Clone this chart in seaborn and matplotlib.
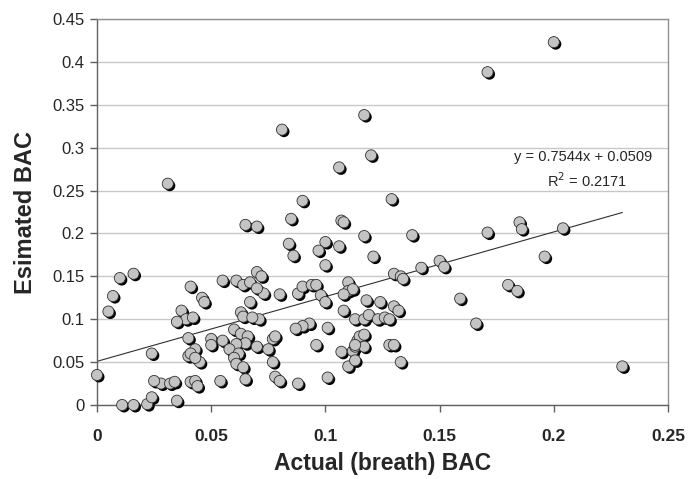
import numpy as np
import pandas as pd
import seaborn as sns
import matplotlib
matplotlib.use("Agg")
from matplotlib import pyplot as plt
from matplotlib import patheffects as pe

# actual (breath) BAC vs estimated BAC
actual_bac = [
    0.200, 0.171, 0.117, 0.081, 0.120, 0.106, 0.031, 0.090, 0.129, 0.085,
    0.107, 0.108, 0.065, 0.070, 0.171, 0.138, 0.117, 0.100, 0.084, 0.106,
    0.185, 0.186, 0.204, 0.121, 0.086, 0.097, 0.196, 0.100, 0.142, 0.150,
    0.152, 0.130, 0.133, 0.134, 0.016, 0.010, 0.070, 0.072, 0.055, 0.061,
    0.064, 0.067, 0.041, 0.088, 0.090, 0.094, 0.096, 0.110, 0.110, 0.112,
    0.108, 0.098, 0.080, 0.007, 0.046, 0.047, 0.100, 0.067, 0.073, 0.070,
    0.118, 0.124, 0.159, 0.180, 0.184, 0.005, 0.037, 0.039, 0.035, 0.042,
    0.071, 0.063, 0.064, 0.068, 0.108, 0.113, 0.117, 0.119, 0.123, 0.126,
    0.128, 0.130, 0.132, 0.101, 0.093, 0.090, 0.087, 0.060, 0.063, 0.066,
    0.065, 0.061, 0.055, 0.050, 0.040, 0.077, 0.078, 0.070, 0.075, 0.058,
    0.050, 0.043, 0.166, 0.096, 0.107, 0.112, 0.113, 0.114, 0.115, 0.117,
    0.117, 0.128, 0.130, 0.110, 0.113, 0.113, 0.077, 0.133, 0.101, 0.062,
    0.060, 0.061, 0.064, 0.045, 0.040, 0.041, 0.043, 0.024, 0.000, 0.028,
    0.025, 0.032, 0.034, 0.041, 0.043, 0.044, 0.054, 0.065, 0.078, 0.080,
    0.088, 0.011, 0.016, 0.022, 0.024, 0.035, 0.230,
]
estimated_bac = [
    0.423, 0.388, 0.338, 0.321, 0.291, 0.277, 0.258, 0.238, 0.240, 0.217,
    0.215, 0.213, 0.210, 0.208, 0.201, 0.198, 0.197, 0.190, 0.188, 0.185,
    0.213, 0.205, 0.206, 0.173, 0.174, 0.180, 0.173, 0.163, 0.160, 0.168,
    0.161, 0.153, 0.150, 0.147, 0.153, 0.148, 0.155, 0.150, 0.145, 0.145,
    0.140, 0.143, 0.138, 0.130, 0.138, 0.140, 0.140, 0.143, 0.133, 0.135,
    0.129, 0.128, 0.129, 0.127, 0.125, 0.120, 0.120, 0.120, 0.130, 0.136,
    0.122, 0.120, 0.124, 0.140, 0.133, 0.109, 0.110, 0.100, 0.097, 0.102,
    0.100, 0.108, 0.103, 0.102, 0.110, 0.100, 0.100, 0.105, 0.100, 0.102,
    0.100, 0.115, 0.110, 0.090, 0.095, 0.092, 0.089, 0.088, 0.083, 0.080,
    0.072, 0.071, 0.075, 0.077, 0.078, 0.077, 0.080, 0.068, 0.065, 0.065,
    0.070, 0.065, 0.095, 0.070, 0.062, 0.063, 0.068, 0.075, 0.080, 0.082,
    0.068, 0.070, 0.070, 0.045, 0.070, 0.052, 0.050, 0.050, 0.032, 0.060,
    0.055, 0.048, 0.044, 0.050, 0.057, 0.060, 0.055, 0.060, 0.035, 0.025,
    0.028, 0.025, 0.027, 0.027, 0.028, 0.022, 0.028, 0.030, 0.033, 0.028,
    0.025, 0.000, 0.000, 0.001, 0.009, 0.005, 0.045,
]

# trendline as printed on the chart
slope = 0.7544
intercept = 0.0509
r_squared = 0.2171

df = pd.DataFrame({"actual": actual_bac, "estimated": estimated_bac})

sns.set_theme(style="white")
plt.rcParams['font.family'] = ['Liberation Sans', 'DejaVu Sans']

fig = plt.figure(figsize=(6.88, 4.79), dpi=100)
ax = fig.add_axes([97 / 688, 74 / 479, 571 / 688, 386 / 479])

ax.set_xlim(0, 0.25)
ax.set_ylim(0, 0.45)
ax.set_yticks(np.arange(0, 0.451, 0.05))
ax.set_xticks(np.arange(0, 0.251, 0.05))
ax.yaxis.grid(True, color="#c8c8c8", linewidth=1)
ax.set_axisbelow(True)

trend = pd.DataFrame({"actual": [0, max(actual_bac)]})
trend["estimated"] = slope * trend["actual"] + intercept
sns.lineplot(data=trend, x="actual", y="estimated", ax=ax, color="#303030", linewidth=0.8)

sns.scatterplot(data=df, x="actual", y="estimated", ax=ax, s=64,
                color="#c4c4c4", edgecolor="#303030", linewidth=0.6, zorder=3)
for coll in ax.collections:
    coll.set_clip_on(False)
    coll.set_path_effects([pe.SimplePatchShadow(offset=(1.4, -1.4), shadow_rgbFace="black", alpha=1.0),
                           pe.Normal()])

fmt = lambda v: "0" if v == 0 else ("%g" % round(v, 2))
ax.set_yticklabels([fmt(v) for v in ax.get_yticks()], fontsize=12)
ax.set_xticklabels([fmt(v) for v in ax.get_xticks()], fontsize=12.5, fontweight="bold",
                   family=['Liberation Sans Narrow', 'Liberation Sans'])

ax.tick_params(axis="both", direction="out", length=5, width=1, color="#606060",
               left=True, bottom=True)
ax.tick_params(axis="x", pad=12)
ax.tick_params(axis="y", pad=4)

for side in ["left", "bottom"]:
    ax.spines[side].set_color("#606060")
    ax.spines[side].set_linewidth(1)
for side in ["top", "right"]:
    ax.spines[side].set_color("#909090")
    ax.spines[side].set_linewidth(1)

ax.set_xlabel("Actual (breath) BAC", fontsize=16.5, fontweight="bold", labelpad=6)
ax.set_ylabel("Esimated BAC", fontsize=17, fontweight="bold", labelpad=11)

ax.text(0.213, 0.289, "y = %.4fx + %.4f" % (slope, intercept), fontsize=10.5, ha="center", va="center")
ax.text(0.2145, 0.261, "R$^2$ = %.4f" % r_squared, fontsize=10.5, ha="center", va="center")

fig.savefig("out.png", dpi=100)
